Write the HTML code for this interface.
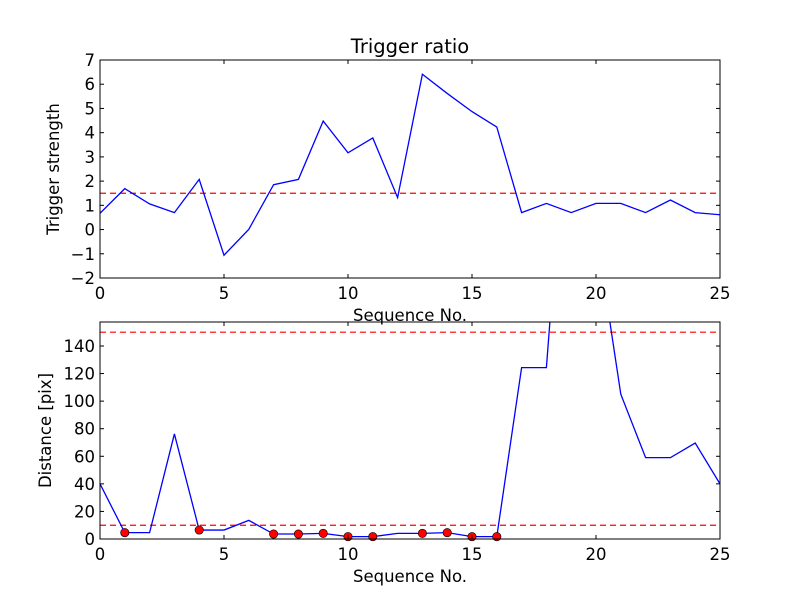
<!DOCTYPE html>
<html><head><meta charset="utf-8"><style>
body{margin:0;background:#fff}
svg{display:block;font-family:"DejaVu Sans","Liberation Sans",sans-serif}
</style></head><body>
<svg id="fig" width="800" height="600" viewBox="0 0 800 600"></svg>
<script>
const seqTop = [0,1,2,3,4,5,6,7,8,9,10,11,12,13,14,15,16,17,18,19,20,21,22,23,24,25];
const strengthValues = [0.67,1.69,1.06,0.70,2.07,-1.06,0.01,1.85,2.07,4.48,3.17,3.78,1.32,6.41,5.62,4.87,4.23,0.70,1.08,0.70,1.08,1.08,0.70,1.22,0.70,0.61];
const strengthThreshold = 1.5;
const topYTicks = [-2,-1,0,1,2,3,4,5,6,7];
const xTicks = [0,5,10,15,20,25];
const distanceValues = [40,4.6,4.6,76.2,6.5,6.5,13.5,3.6,3.6,4.1,1.7,1.7,4.1,4.1,4.6,1.7,1.7,124.3,124.3,360,224,105,59,59,69.6,40];
const markerSeq = [1,4,7,8,9,10,11,13,14,15,16];
const distanceThresholds = [10,150];
const bottomYTicks = [0,20,40,60,80,100,120,140];

const NS="http://www.w3.org/2000/svg";
const svg=document.getElementById('fig');
function mk(tag,attrs,parent){const e=document.createElementNS(NS,tag);for(const k in attrs)e.setAttribute(k,attrs[k]);(parent||svg).appendChild(e);return e;}
function txt(s,attrs,parent){const e=mk('text',attrs,parent);e.textContent=s;return e;}

function panel(name,box,xmin,xmax,ymin,ymax){
  const sx=v=>box.x+(v-xmin)/(xmax-xmin)*box.w;
  const sy=v=>box.y+box.h-(v-ymin)/(ymax-ymin)*box.h;
  const g=mk('g',{});
  
  
  const cp=mk('clipPath',{id:name+'-clip'},g);
  mk('rect',{x:box.x,y:box.y,width:box.w,height:box.h},cp);
  const plot=mk('g',{'clip-path':'url(#'+name+'-clip)'},g);
  return {sx,sy,g,plot,box};
}

const T=panel('trigger-panel',{x:100,y:60,w:620,h:218},0,25,-2,7);
{
  const l=mk('line',{x1:T.sx(0),x2:T.sx(25),y1:T.sy(strengthThreshold),y2:T.sy(strengthThreshold),stroke:'#ff0000','stroke-width':1.2,'stroke-dasharray':'6,4'},T.plot);
  
  
  const p=mk('polyline',{points:seqTop.map((s,i)=>T.sx(s)+','+T.sy(strengthValues[i])).join(' '),fill:'none',stroke:'#0000ff','stroke-width':1.3},T.plot);
  
  
}
const B=panel('distance-panel',{x:100,y:322,w:620,h:217},0,25,0,157.4);
{
  distanceThresholds.forEach(t=>{
    const l=mk('line',{x1:B.sx(0),x2:B.sx(25),y1:B.sy(t),y2:B.sy(t),stroke:'#ff0000','stroke-width':1.2,'stroke-dasharray':'6,4'},B.plot);
    
    
  });
  const p=mk('polyline',{points:seqTop.map((s,i)=>B.sx(s)+','+B.sy(distanceValues[i])).join(' '),fill:'none',stroke:'#0000ff','stroke-width':1.3},B.plot);
  
  
  markerSeq.forEach(s=>{
    const c=mk('circle',{cx:B.sx(s),cy:B.sy(distanceValues[s]),r:4.2,fill:'#ff0000',stroke:'#000','stroke-width':0.6},B.g);
    
    
  });
}

function axes(P,yTicks,ylabel,ylabelX){
  const b=P.box;
  mk('rect',{x:b.x,y:b.y,width:b.w,height:b.h,fill:'none',stroke:'#000','stroke-width':1},P.g);
  xTicks.forEach(t=>{
    const x=P.sx(t);
    mk('line',{x1:x,x2:x,y1:b.y+b.h,y2:b.y+b.h-4,stroke:'#000'},P.g);
    mk('line',{x1:x,x2:x,y1:b.y,y2:b.y+4,stroke:'#000'},P.g);
    const e=txt(String(t),{x:x,y:b.y+b.h+21,'font-size':16.5,'text-anchor':'middle'},P.g);
    
    
  });
  yTicks.forEach(t=>{
    const y=P.sy(t);
    mk('line',{x1:b.x,x2:b.x+4,y1:y,y2:y,stroke:'#000'},P.g);
    mk('line',{x1:b.x+b.w,x2:b.x+b.w-4,y1:y,y2:y,stroke:'#000'},P.g);
    const e=txt(String(t).replace('-','\u2212'),{x:b.x-5,y:y+6,'font-size':16.5,'text-anchor':'end'},P.g);
    
    
  });
  const xl=txt('Sequence No.',{x:b.x+b.w/2,y:b.y+b.h+43,'font-size':16.5,'text-anchor':'middle'},P.g);
  
  
  const cy=b.y+b.h/2;
  const yl=txt(ylabel,{x:ylabelX,y:cy,'font-size':16.5,'text-anchor':'middle',transform:'rotate(-90 '+ylabelX+' '+cy+')'},P.g);
  
  
}
axes(T,topYTicks,'Trigger strength',59);
axes(B,bottomYTicks,'Distance [pix]',51);
const title=txt('Trigger ratio',{x:410,y:53,'font-size':19.5,'text-anchor':'middle'});


</script>
</body></html>
